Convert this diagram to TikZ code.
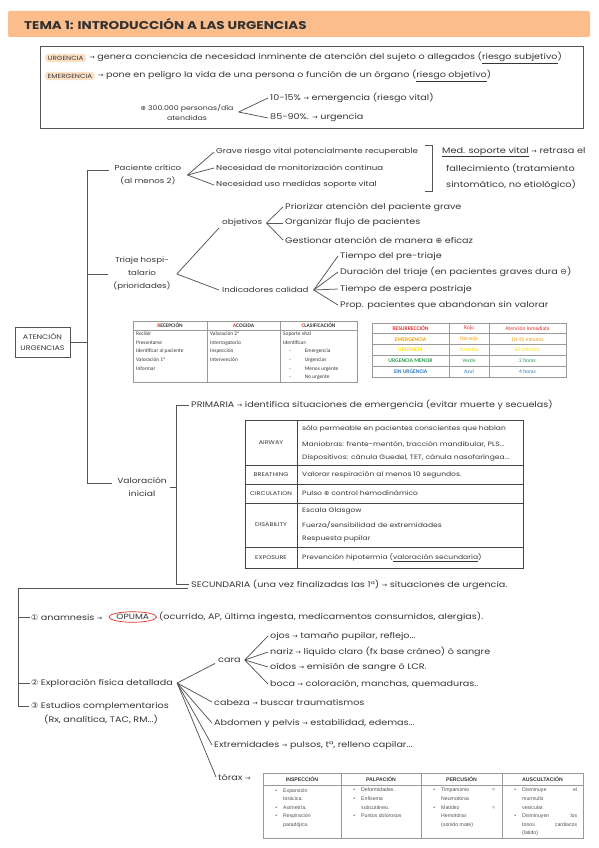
\documentclass[tikz,border=0pt]{standalone}
\usepackage{fontspec}
\setmainfont{Poppins}[FakeStretch=1.2]
\newfontfamily\symf{DejaVu Sans}
\newfontfamily\calf{Carlito}
\newfontfamily\arf{Liberation Sans}
\usetikzlibrary{shapes.geometric}
\definecolor{ink}{HTML}{363636}
\definecolor{linec}{HTML}{555555}
\definecolor{titlebg}{HTML}{FBBD8C}
\definecolor{hlbg}{HTML}{FDE0C6}
\definecolor{cred}{HTML}{E8312A}
\definecolor{corange}{HTML}{F5A100}
\definecolor{cyellow}{HTML}{FFE200}
\definecolor{cgreen}{HTML}{2E9C4E}
\definecolor{cblue}{HTML}{2F7BC0}
\definecolor{tabgray}{HTML}{9A9A9A}
\definecolor{tabdark}{HTML}{444444}
\newcommand\fs[1]{\fontsize{#1}{13}\selectfont}
\newcommand\arr{{\symf\fontsize{6.5}{8}\selectfont →}}
\newcommand\pl{{\symf ⊕}}
\newcommand\mn{{\symf ⊖}}
\newcommand\bul{\llap{•\hspace{6pt}}}
\tikzset{
  hw/.style={font=\fs{8}, text=ink, inner sep=0pt, anchor=west},
  hwc/.style={font=\fs{8}, text=ink, inner sep=0pt, align=center},
  conn/.style={draw=linec, line width=0.75pt},
  hl/.style={fill=hlbg, rounded corners=3pt, inner xsep=2.5pt, inner ysep=2pt, font=\fontsize{6}{8}\selectfont, text=ink, anchor=west},
  tcap/.style={font=\fontsize{5.4}{6}\selectfont, text=ink, inner sep=0pt},
  tgrid/.style={draw=tabgray, line width=0.7pt},
  dgrid/.style={draw=tabdark, line width=0.8pt},
  cal/.style={font=\calf\fontsize{5.4}{8.7}\selectfont, text=ink, inner sep=0pt, anchor=north west, align=left},
  calh/.style={font=\calf\bfseries\fontsize{5.4}{7}\selectfont, text=ink, inner sep=0pt},
  calc/.style={font=\calf\fontsize{5.6}{7}\selectfont, inner sep=0pt},
  ari/.style={font=\arf\fontsize{5.2}{8.6}\selectfont, text=ink!85, inner sep=0pt, anchor=north west, align=left},
  arih/.style={font=\arf\bfseries\fontsize{5.2}{7}\selectfont, text=ink, inner sep=0pt},
}
\begin{document}
\begin{tikzpicture}[x=1pt,y=-1pt]
\useasboundingbox (0,0) rectangle (599,848);
\fill[white] (0,0) rectangle (599,848);
% title
\fill[titlebg, rounded corners=2pt] (8,11) rectangle (590,37);
\node[font=\bfseries\fontsize{11.3}{13}\selectfont, text=ink!90!black, inner sep=0pt, anchor=west] (title) at (24,24) {TEMA 1: INTRODUCCIÓN A LAS URGENCIAS};
% top box
\draw[draw=linec, line width=0.8pt] (40,46) rectangle (583,128);
\node[hl] (urg) at (45,58) {URGENCIA};
\node[hw] (urgd) at ([xshift=3pt]urg.east) {\arr{} genera conciencia de necesidad inminente de atención del sujeto o allegados (\underline{riesgo subjetivo})};
\node[hl] (emg) at (45,76) {EMERGENCIA};
\node[hw] (emgd) at ([xshift=3pt]emg.east) {\arr{} pone en peligro la vida de una persona o función de un órgano (\underline{riesgo objetivo})};
\node[hwc, font=\fontsize{6.5}{10}\selectfont] (n300) at (187,112) {\pl{} 300.000 personas/día\\atendidas};
\node[hw] (p10) at (270,98) {10-15\% \arr{} emergencia (riesgo vital)};
\node[hw] (p85) at (270,118) {85-90\%. \arr{} urgencia};
\coordinate (f300) at ([xshift=5pt]n300.east);
\draw[conn] (f300) -- ([xshift=-2pt]p10.west);
\draw[conn] (f300) -- ([xshift=-2pt]p85.west);
% trunk
\node[draw=linec, line width=0.9pt, minimum width=55pt, minimum height=30pt, align=center, inner sep=1pt, font=\fontsize{6.6}{11}\selectfont, text=ink] (at) at (42.5,342) {ATENCIÓN\\URGENCIAS};
\coordinate (tA) at (87,170);
\coordinate (tB) at (87,483);
\draw[conn] (at.east) -- (at.east -| tA);
\draw[conn] (tA) -- (tB);
% paciente critico
\node[hwc, font=\fs{7.2}] (pc) at (148,175) {Paciente crítico\\(al menos 2)};
\draw[conn] (tA) -- ([xshift=-6pt]pc.west |- tA);
\node[hw, font=\fs{7.2}] (g1) at (216,152) {Grave riesgo vital potencialmente recuperable};
\node[hw, font=\fs{7.2}] (g2) at (216,168) {Necesidad de monitorización continua};
\node[hw, font=\fs{7.2}] (g3) at (216,185) {Necesidad uso medidas soporte vital};
\coordinate (fpc) at ([xshift=6pt]pc.east);
\draw[conn] (fpc) -- ([xshift=-2pt]g1.west);
\draw[conn] (fpc) -- ([xshift=-2pt]g2.west);
\draw[conn] (fpc) -- ([xshift=-2pt]g3.west);
\draw[conn] (425,145) -- (432,145) -- (432,191) -- (425,191);
\node[hw, font=\fs{8.1}] (ms1) at (442,152) {\underline{Med. soporte vital} \arr{} retrasa el};
\node[hw, font=\fs{8.1}] (ms2) at (446,168) {fallecimiento (tratamiento};
\node[hw, font=\fs{8.1}] (ms3) at (446,185) {sintomático, no etiológico)};
% triaje
\node[hwc, font=\fs{7.2}] (tr) at (142,274) {Triaje hospi-\\talario\\(prioridades)};
\draw[conn] (tA |- tr.west) -- ([xshift=-5pt]tr.west);
\node[hw, font=\fs{7.4}] (obj) at (222,223) {objetivos};
\node[hw, font=\fs{7.2}] (ind) at (222,290) {Indicadores calidad};
\coordinate (ftr) at ([xshift=6pt]tr.east);
\draw[conn] (ftr) -- ([xshift=-3pt,yshift=-1pt]obj.south west);
\draw[conn] (ftr) -- ([xshift=-3pt]ind.west);
\node[hw] (o1) at (285,207) {Priorizar atención del paciente grave};
\node[hw] (o2) at (285,223) {Organizar flujo de pacientes};
\node[hw] (o3) at (285,240) {Gestionar atención de manera \pl{} eficaz};
\coordinate (fobj) at ([xshift=4pt]obj.east);
\draw[conn] (fobj) -- ([xshift=-2pt]o1.west);
\draw[conn] (fobj) -- ([xshift=-2pt]o2.west);
\draw[conn] (fobj) -- ([xshift=-2pt]o3.west);
\node[hw] (i1) at (340,256) {Tiempo del pre-triaje};
\node[hw] (i2) at (340,272) {Duración del triaje (en pacientes graves dura \mn)};
\node[hw] (i3) at (340,289) {Tiempo de espera postriaje};
\node[hw] (i4) at (340,305) {Prop. pacientes que abandonan sin valorar};
\coordinate (find) at ([xshift=5pt]ind.east);
\draw[conn] (find) -- ([xshift=-2pt]i1.west);
\draw[conn] (find) -- ([xshift=-2pt]i2.west);
\draw[conn] (find) -- ([xshift=-2pt]i3.west);
\draw[conn] (find) -- ([xshift=-2pt]i4.west);
% RAC table
\draw[tgrid] (133,321) rectangle (357,382);
\draw[tgrid] (133,330) -- (357,330);
\draw[tgrid] (207,321) -- (207,382);
\draw[tgrid] (280,321) -- (280,382);
\node[calh] (h1) at (170,325.5) {\textcolor{cred}{R}ECEPCIÓN};
\node[calh] (h2) at (243.5,325.5) {\textcolor{cred}{A}COGIDA};
\node[calh] (h3) at (318.5,325.5) {\textcolor{cred}{C}LASIFICACIÓN};
\node[cal] (r1) at (136,331.5) {Recibir\\Presentarse\\Identificar al paciente\\Valoración 1ª\\Informar};
\node[cal] (r2) at (210,331.5) {Valoración 2ª\\Interrogatorio\\Inspección\\Intervención};
\node[cal] (r3) at (283,331.5) {Soporte vital\\Identificar:\\\hspace*{6pt}-\hspace{14pt}Emergencia\\\hspace*{6pt}-\hspace{14pt}Urgencias\\\hspace*{6pt}-\hspace{14pt}Menos urgente\\\hspace*{6pt}-\hspace{14pt}No urgente};
% colour table
\draw[tgrid] (372,323) rectangle (566,377);
\foreach \yy in {333.8,344.6,355.4,366.2} \draw[tgrid] (372,\yy) -- (566,\yy);
\draw[tgrid] (449,323) -- (449,377);
\draw[tgrid] (489,323) -- (489,377);
\node[calc, text=cred, font=\calf\bfseries\fontsize{5.6}{7}\selectfont] (k1) at (410.5,328.4) {RESURRECCIÓN};
\node[calc, text=cred] (k1b) at (469,328.4) {Rojo};
\node[calc, text=cred] (k1c) at (527.5,328.4) {Atención inmediata};
\node[calc, text=corange, font=\calf\bfseries\fontsize{5.6}{7}\selectfont] (k2) at (410.5,339.2) {EMERGENCIA};
\node[calc, text=corange] (k2b) at (469,339.2) {Naranja};
\node[calc, text=corange] (k2c) at (527.5,339.2) {10-15 \textit{minutos}};
\node[calc, text=cyellow, font=\calf\bfseries\fontsize{5.6}{7}\selectfont] (k3) at (410.5,350) {URGENCIA};
\node[calc, text=cyellow] (k3b) at (469,350) {Amarillo};
\node[calc, text=cyellow] (k3c) at (527.5,350) {60 minutos};
\node[calc, text=cgreen, font=\calf\bfseries\fontsize{5.6}{7}\selectfont] (k4) at (410.5,360.8) {URGENCIA MENOR};
\node[calc, text=cgreen] (k4b) at (469,360.8) {Verde};
\node[calc, text=cgreen] (k4c) at (527.5,360.8) {2 horas};
\node[calc, text=cblue, font=\calf\bfseries\fontsize{5.6}{7}\selectfont] (k5) at (410.5,371.6) {SIN URGENCIA};
\node[calc, text=cblue] (k5b) at (469,371.6) {Azul};
\node[calc, text=cblue] (k5c) at (527.5,371.6) {4 horas};
% valoracion inicial
\node[hwc, font=\fs{7.6}] (vi) at (142,487) {Valoración\\inicial};
\draw[conn] (tB) -- ([xshift=-5pt]vi.west |- tB);
\coordinate (sA) at (176,405);
\coordinate (sB) at (176,584);
\draw[conn] ([xshift=3pt]vi.east) -- (vi.east -| sA);
\draw[conn] (sA) -- (sB);
\node[hw] (prim) at (191,405) {PRIMARIA \arr{} identifica situaciones de emergencia (evitar muerte y secuelas)};
\draw[conn] (sA) -- ([xshift=-2pt]prim.west);
\node[hw] (sec) at (191,585) {SECUNDARIA (una vez finalizadas las 1ª) \arr{} situaciones de urgencia.};
\draw[conn] (sB) -- ([xshift=-2pt]sec.west |- sB);
% ABCDE table
\draw[dgrid] (245,420) rectangle (523,568);
\foreach \yy in {465,484,503,547} \draw[dgrid] (245,\yy) -- (523,\yy);
\draw[dgrid] (297,420) -- (297,568);
\node[tcap] (aw) at (271,443) {AIRWAY};
\node[tcap] (br) at (271,474.5) {BREATHING};
\node[tcap] (ci) at (271,493.5) {CIRCULATION};
\node[tcap] (di) at (271,525) {DISABILITY};
\node[tcap] (ex) at (271,557.5) {EXPOSURE};
\node[hw, font=\fs{6.3}] (a1) at (302,429) {sólo permeable en pacientes conscientes que hablan};
\node[hw, font=\fs{6.3}] (a2) at (302,444) {Maniobras: frente-mentón, tracción mandibular, PLS...};
\node[hw, font=\fs{6.3}] (a3) at (302,458) {Dispositivos: cánula Guedel, TET, cánula nasofaríngea...};
\node[hw, font=\fs{6.3}] (b1) at (302,474.5) {Valorar respiración al menos 10 segundos.};
\node[hw, font=\fs{6.3}] (c1t) at (302,493.5) {Pulso \pl{} control hemodinámico};
\node[hw, font=\fs{6.3}] (d1) at (302,511) {Escala Glasgow};
\node[hw, font=\fs{6.3}] (d2) at (302,525) {Fuerza/sensibilidad de extremidades};
\node[hw, font=\fs{6.3}] (d3) at (302,539) {Respuesta pupilar};
\node[hw, font=\fs{6.3}] (x1) at (302,557.5) {Prevención hipotermia (\underline{valoración secundaria})};
% bottom tree
\coordinate (bA) at (18,588);
\coordinate (bB) at (18,706);
\node[hw] (e1) at (31,617) {{\symf ①} anamnesis \arr};
\node[ellipse, draw=cred, line width=0.7pt, inner xsep=0.5pt, inner ysep=1pt, font=\fs{7.6}, text=ink, anchor=west] (opuma) at ([xshift=6pt]e1.east) {OPUMA};
\node[hw] (e1d) at ([xshift=2pt]opuma.east) {(ocurrido, AP, última ingesta, medicamentos consumidos, alergias).};
\node[hw] (e2) at (31,683) {{\symf ②} Exploración física detallada};
\node[hw] (e3) at (31,706) {{\symf ③} Estudios complementarios};
\node[hw] (e3b) at (44,719) {(Rx, analítica, TAC, RM...)};
\draw[conn] ([xshift=-3pt]sec.west |- bA) -- (bA) -- (bB) -- ([xshift=-2pt]e3.west |- bB);
\draw[conn] (bA |- e1.west) -- ([xshift=-1pt]e1.west);
\draw[conn] (bA |- e2.west) -- ([xshift=-1pt]e2.west);
\node[hw] (cara) at (218,660) {cara};
\node[hw] (cab) at (214,702) {cabeza \arr{} buscar traumatismos};
\node[hw] (abd) at (214,723) {Abdomen y pelvis \arr{} estabilidad, edemas...};
\node[hw] (ext) at (214,745) {Extremidades \arr{} pulsos, tª, relleno capilar...};
\node[hw] (tor) at (218,777) {tórax \arr};
\coordinate (fe2) at ([xshift=4pt]e2.east);
\draw[conn] (fe2) -- ([xshift=-3pt,yshift=-1pt]cara.south west);
\draw[conn] (fe2) -- ([xshift=-2pt]cab.west);
\draw[conn] (fe2) -- ([xshift=-2pt]abd.west);
\draw[conn] (fe2) -- ([xshift=-2pt]ext.west);
\draw[conn] (fe2) -- ([xshift=-2pt]tor.west);
\node[hw] (c1) at (270,636) {ojos \arr{} tamaño pupilar, reflejo...};
\node[hw] (c2) at (270,652) {nariz \arr{} líquido claro (fx base cráneo) ó sangre};
\node[hw] (c3) at (270,667) {oídos \arr{} emisión de sangre ó LCR.};
\node[hw] (c4) at (270,684) {boca \arr{} coloración, manchas, quemaduras..};
\coordinate (fca) at ([xshift=4pt]cara.east);
\draw[conn] (fca) -- ([xshift=-2pt]c1.west);
\draw[conn] (fca) -- ([xshift=-2pt]c2.west);
\draw[conn] (fca) -- ([xshift=-2pt]c3.west);
\draw[conn] (fca) -- ([xshift=-2pt]c4.west);
% torax table
\draw[tgrid] (263,773) rectangle (583,838);
\draw[tgrid] (263,785) -- (583,785);
\draw[tgrid] (341,773) -- (341,838);
\draw[tgrid] (421,773) -- (421,838);
\draw[tgrid] (502,773) -- (502,838);
\node[arih] (th1) at (302,779) {INSPECCIÓN};
\node[arih] (th2) at (381,779) {PALPACIÓN};
\node[arih] (th3) at (461.5,779) {PERCUSIÓN};
\node[arih] (th4) at (542.5,779) {AUSCULTACIÓN};
\node[ari] (ti) at (283,788) {\bul Expansión\\torácica.\\\bul Asimetría.\\\bul Respiración\\paradójica.};
\node[ari] (tpa) at (361,788) {\bul Deformidades.\\\bul Enfisema\\subcutáneo.\\\bul Puntos dolorosos};
\node[ari] (tpe) at (441,788) {\bul\makebox[54pt][s]{Timpanismo =}\\Neumotórax\\\bul\makebox[54pt][s]{Matidez =}\\Hemotórax\\(sonido mate)};
\node[ari] (tau) at (522,788) {\bul\makebox[55pt][s]{Disminuye el}\\murmullo\\vesicular.\\\bul\makebox[55pt][s]{Disminuyen los}\\\makebox[55pt][s]{tonos cardiacos}\\(latido)};
\end{tikzpicture}
\end{document}
